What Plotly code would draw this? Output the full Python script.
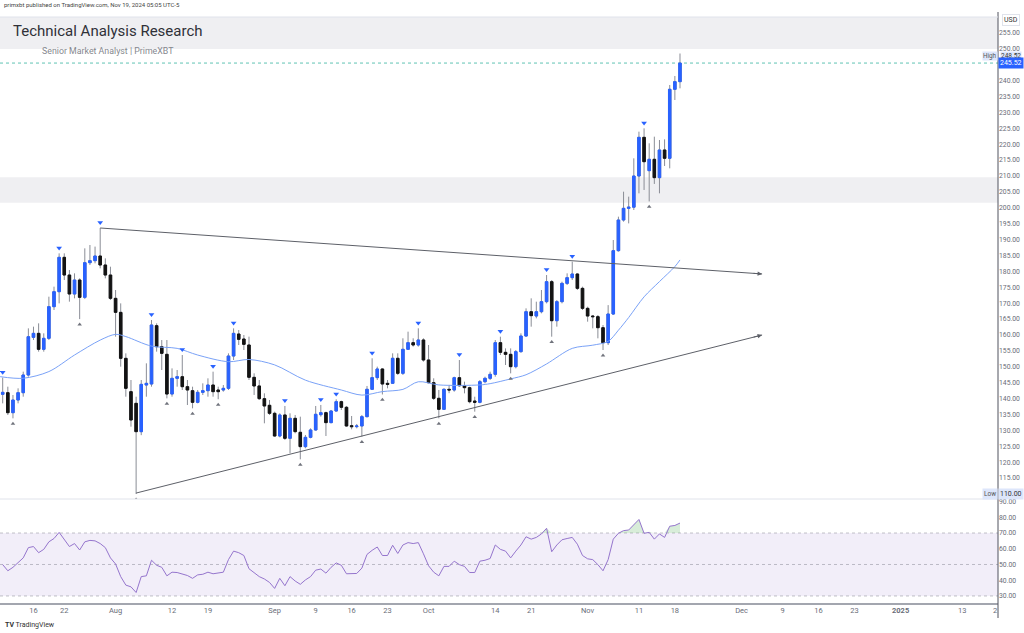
import plotly.graph_objects as go
import pandas as pd

# ---------------- data ----------------
dates = pd.date_range("2024-07-10", "2024-11-19", freq="D")

open_ = [141.34, 141.86, 135.57, 139.56, 141.86, 147.42, 159.26, 160.52, 155.49, 158.95,
         168.91, 173.62, 184.42, 178.86, 172.89, 177.29, 171.84, 182.74, 183.37, 184.84,
         182.01, 178.86, 171.53, 167.12, 152.66, 142.18, 138.51, 129.60, 144.27, 144.59,
         162.93, 156.33, 153.92, 141.44, 146.37, 146.89, 143.75, 142.49, 138.82, 141.97,
         142.49, 144.27, 142.70, 142.70, 143.23, 153.39, 160.31, 158.74, 156.86, 146.69,
         143.97, 139.98, 137.89, 135.37, 128.24, 134.85, 127.51, 133.80, 129.40, 124.89,
         127.82, 130.13, 134.95, 135.58, 132.44, 136.10, 139.04, 137.26, 131.49, 131.18,
         131.39, 134.32, 142.92, 146.59, 149.31, 144.80, 144.80, 152.67, 147.95, 155.50,
         157.59, 156.86, 158.43, 152.14, 145.01, 140.09, 136.63, 142.92, 142.70, 146.58,
         144.06, 143.44, 139.24, 138.82, 145.32, 146.37, 147.63, 157.59, 154.55, 153.92,
         150.04, 154.76, 159.68, 167.33, 165.97, 167.33, 170.48, 176.77, 164.50, 170.48,
         176.24, 178.03, 179.18, 174.67, 168.38, 165.97, 165.76, 162.30, 157.59, 166.60,
         186.52, 196.16, 199.83, 200.20, 210.00, 222.16, 211.68, 215.25, 209.48, 218.18,
         215.56, 237.26, 239.67]
high_ = [146.60, 143.75, 141.13, 143.23, 148.47, 162.09, 162.62, 163.67, 160.52, 172.05,
         175.20, 185.68, 185.68, 180.44, 179.39, 177.82, 187.25, 188.30, 187.80, 193.65,
         184.10, 181.48, 174.15, 169.95, 154.23, 145.85, 140.60, 145.85, 151.09, 164.71,
         163.67, 158.42, 158.42, 149.51, 148.99, 153.71, 145.85, 143.75, 142.70, 144.80,
         146.37, 148.47, 143.75, 144.27, 154.23, 162.09, 161.57, 160.00, 159.48, 147.95,
         145.85, 141.66, 139.56, 135.90, 135.37, 137.68, 135.37, 134.85, 134.32, 128.56,
         130.65, 137.68, 138.00, 135.90, 136.42, 139.77, 139.35, 137.68, 134.53, 132.02,
         134.85, 143.97, 152.67, 150.05, 149.52, 145.85, 154.24, 154.24, 158.96, 161.05,
         158.96, 162.10, 158.96, 156.86, 146.38, 142.71, 143.23, 144.30, 146.89, 152.13,
         145.32, 143.75, 140.60, 145.85, 146.89, 148.47, 158.42, 159.47, 155.80, 155.80,
         155.28, 160.52, 168.38, 171.53, 170.48, 174.15, 178.86, 177.29, 171.00, 176.77,
         179.39, 183.06, 179.39, 175.20, 168.91, 166.29, 166.29, 163.14, 169.40, 189.87,
         197.21, 205.07, 203.50, 215.56, 223.94, 224.99, 220.28, 222.37, 221.32, 221.53,
         238.62, 241.45, 248.52]
low_ = [138.50, 134.84, 133.79, 138.51, 140.60, 146.90, 158.42, 154.76, 154.76, 158.42,
        167.86, 169.95, 177.29, 170.48, 171.53, 165.00, 171.30, 182.00, 182.53, 180.96,
        177.82, 171.00, 159.47, 150.04, 140.60, 131.17, 110.00, 128.50, 140.60, 143.75,
        154.76, 148.99, 140.08, 140.60, 143.75, 142.70, 137.98, 136.94, 138.51, 141.13,
        140.60, 140.60, 139.80, 142.18, 142.70, 152.13, 156.85, 155.28, 145.85, 141.14,
        139.56, 132.23, 134.85, 128.03, 127.82, 126.99, 122.79, 129.08, 120.90, 124.37,
        127.51, 129.92, 134.32, 128.24, 132.23, 135.90, 136.42, 131.18, 130.34, 130.65,
        128.03, 134.11, 142.71, 145.85, 141.30, 143.23, 144.59, 147.43, 147.43, 155.29,
        156.34, 156.34, 151.62, 144.80, 139.56, 133.80, 136.42, 141.70, 142.18, 143.75,
        141.65, 138.51, 135.89, 138.51, 144.80, 145.85, 146.89, 153.71, 150.56, 147.94,
        149.51, 154.44, 159.47, 162.62, 165.24, 166.81, 169.95, 159.47, 162.62, 169.95,
        175.72, 177.29, 174.15, 167.86, 164.19, 162.09, 158.95, 155.28, 156.85, 166.30,
        186.20, 195.64, 195.10, 199.31, 204.55, 205.60, 202.00, 207.50, 204.55, 213.15,
        212.41, 233.90, 237.57]
close_ = [141.97, 135.57, 139.56, 141.86, 147.42, 159.47, 160.52, 155.49, 158.95, 168.91,
          173.62, 184.42, 178.86, 172.89, 177.29, 171.84, 182.74, 183.37, 184.84, 182.01,
          178.86, 171.53, 167.12, 152.66, 143.23, 133.27, 129.60, 144.48, 144.80, 163.14,
          156.33, 154.23, 141.44, 146.37, 146.89, 143.75, 142.70, 138.82, 141.97, 142.49,
          144.27, 142.18, 142.18, 143.23, 153.39, 160.52, 158.63, 157.06, 146.70, 143.97,
          139.98, 137.68, 135.37, 128.24, 134.85, 127.51, 133.80, 129.61, 124.89, 127.82,
          130.13, 135.06, 135.58, 132.44, 136.10, 139.04, 137.26, 131.39, 131.18, 131.39,
          134.32, 142.92, 146.59, 149.31, 144.59, 144.49, 152.67, 147.95, 155.50, 157.59,
          156.86, 158.43, 152.14, 145.01, 140.09, 136.63, 142.92, 142.71, 146.58, 144.06,
          143.44, 139.03, 138.82, 145.32, 146.37, 147.63, 157.59, 154.55, 153.92, 150.04,
          154.76, 159.68, 167.33, 166.08, 167.33, 170.48, 176.77, 164.50, 170.48, 176.24,
          178.03, 179.18, 174.67, 168.38, 165.97, 165.76, 162.30, 157.59, 166.60, 186.52,
          196.16, 199.83, 200.20, 210.00, 222.16, 214.50, 215.25, 209.48, 218.18, 215.56,
          237.26, 239.67, 245.52]

rsi = [49.9, 46.0, 48.2, 51.0, 54.2, 60.7, 61.4, 57.5, 59.6, 64.4,
       66.5, 70.4, 66.1, 61.4, 63.3, 59.2, 64.4, 65.3, 65.0, 63.3,
       60.7, 54.2, 50.3, 42.3, 36.9, 35.8, 32.2, 42.3, 42.8, 52.7,
       49.5, 48.2, 42.8, 45.1, 44.9, 43.8, 43.0, 41.2, 43.4, 43.8,
       45.1, 44.1, 44.5, 45.1, 53.1, 58.5, 57.5, 55.7, 47.3, 44.9,
       42.3, 40.8, 38.6, 34.8, 41.2, 36.5, 42.3, 39.5, 37.4, 40.2,
       42.3, 46.4, 47.1, 44.5, 48.2, 51.0, 49.5, 44.1, 44.1, 44.3,
       47.7, 56.4, 59.0, 61.1, 55.7, 55.7, 62.2, 57.0, 62.4, 63.9,
       63.3, 63.9, 56.8, 49.2, 45.1, 42.8, 48.8, 48.8, 52.1, 49.9,
       48.8, 44.9, 44.9, 52.1, 52.7, 53.8, 62.4, 59.6, 58.5, 54.2,
       58.5, 62.4, 67.6, 66.1, 67.2, 69.4, 73.0, 58.1, 62.4, 65.7,
       66.5, 67.2, 62.9, 55.7, 53.6, 53.1, 49.9, 46.0, 53.1, 66.1,
       69.8, 71.5, 71.9, 75.4, 78.6, 69.8, 70.4, 66.1, 69.4, 67.2,
       74.3, 74.8, 76.3]

ma_dates = ["2024-07-09 12:00", "2024-07-14", "2024-07-19", "2024-07-24", "2024-07-29",
            "2024-08-01", "2024-08-03", "2024-08-08", "2024-08-13", "2024-08-17",
            "2024-08-23", "2024-08-27", "2024-09-01", "2024-09-07", "2024-09-14",
            "2024-09-18", "2024-09-22", "2024-09-26", "2024-09-29", "2024-10-03",
            "2024-10-11", "2024-10-13", "2024-10-17", "2024-10-20", "2024-10-24",
            "2024-10-29", "2024-11-02", "2024-11-05", "2024-11-07", "2024-11-09",
            "2024-11-12", "2024-11-15", "2024-11-18", "2024-11-19"]
ma_values = [146.9, 146.4, 148.5, 153.7, 158.4, 160.2, 159.5, 156.5, 155.8, 153.7,
             151.6, 152.3, 150.6, 145.8, 142.7, 141.1, 142.2, 142.9, 145.3, 144.3,
             144.3, 144.7, 146.2, 147.5, 150.9, 155.8, 156.8, 158.0, 161.5, 165.5,
             172.0, 176.8, 181.5, 183.6]

swing_high_dates = ["2024-07-10", "2024-07-21", "2024-07-29", "2024-08-08", "2024-08-14",
                    "2024-08-20", "2024-08-24", "2024-09-03", "2024-09-10", "2024-09-13",
                    "2024-09-20", "2024-09-29", "2024-10-07", "2024-10-15", "2024-10-24",
                    "2024-10-29", "2024-11-12"]
swing_low_dates = ["2024-07-12", "2024-07-25", "2024-08-05", "2024-08-11", "2024-08-16",
                   "2024-08-21", "2024-09-06", "2024-09-18", "2024-09-22", "2024-10-03",
                   "2024-10-10", "2024-10-17", "2024-10-25", "2024-11-04", "2024-11-13"]

upper_trend_dates = ["2024-07-29", "2024-12-05"]
upper_trend_prices = [193.65, 179.2]
lower_trend_dates = ["2024-08-05", "2024-12-05"]
lower_trend_prices = [110.3, 160.0]

zone_top = (249.9, 260.0)
zone_mid = (201.6, 209.6)
last_price = 245.52
high_price = 248.52
low_price = 110.00

# 245.00 is hidden behind the last-price label in the reference
price_ticks = [v for v in range(115, 256, 5) if v != 245]
rsi_ticks = [30, 40, 50, 60, 70, 80, 90]
xtick_dates = ["2024-07-16", "2024-07-22", "2024-08-01", "2024-08-12", "2024-08-19",
               "2024-09-01", "2024-09-09", "2024-09-16", "2024-09-23", "2024-10-01",
               "2024-10-14", "2024-10-21", "2024-11-01", "2024-11-11", "2024-11-18",
               "2024-12-01", "2024-12-09", "2024-12-16", "2024-12-23", "2025-01-01",
               "2025-01-13"]
xtick_text = ["16", "22", "Aug", "12", "19", "Sep", "9", "16", "23", "Oct", "14", "21",
              "Nov", "11", "18", "Dec", "9", "16", "23", "<b>2025</b>", "13"]

# ---------------- styling ----------------
BLUE = "#2962FF"
BLACK = "#131313"
WICK = "#8a8d96"
TXT = "#6a6d78"
FONT = "Roboto"

W, H = 1024, 633
L, R, T, B = 0, 26, 17, 29
PH = H - T - B
PW = W - L - R
SPLIT = 499


def py(pix):
    return (H - B - pix) / PH


def px(pix):
    return (pix - L) / PW


date_str = list(dates.strftime("%Y-%m-%d"))
pos = {d: i for i, d in enumerate(date_str)}
body_hi = [max(o, c) for o, c in zip(open_, close_)]
body_lo = [min(o, c) for o, c in zip(open_, close_)]

fig = go.Figure()

fig.add_trace(go.Candlestick(
    x=dates, open=open_, high=high_, low=low_, close=close_,
    increasing=dict(line=dict(color=WICK, width=1), fillcolor=WICK),
    decreasing=dict(line=dict(color=WICK, width=1), fillcolor=WICK),
    whiskerwidth=0, hoverinfo="skip", xaxis="x", yaxis="y"))
fig.add_trace(go.Candlestick(
    x=dates, open=open_, high=body_hi, low=body_lo, close=close_,
    increasing=dict(line=dict(color=BLUE, width=1), fillcolor=BLUE),
    decreasing=dict(line=dict(color=BLACK, width=1), fillcolor=BLACK),
    whiskerwidth=0, xaxis="x", yaxis="y"))

fig.add_trace(go.Scatter(x=ma_dates, y=ma_values, mode="lines",
                         line=dict(color="#7aa2f7", width=1, shape="spline", smoothing=0.9),
                         xaxis="x", yaxis="y", hoverinfo="skip"))

for dx, dy in ((upper_trend_dates, upper_trend_prices), (lower_trend_dates, lower_trend_prices)):
    fig.add_trace(go.Scatter(x=dx, y=dy, mode="lines", line=dict(color="#5d6068", width=1),
                             xaxis="x", yaxis="y", hoverinfo="skip"))

fig.add_trace(go.Scatter(
    x=swing_high_dates, y=[high_[pos[d]] + 1.7 for d in swing_high_dates], mode="markers",
    marker=dict(symbol="triangle-down", size=5, color=BLUE), xaxis="x", yaxis="y"))
fig.add_trace(go.Scatter(
    x=swing_low_dates, y=[low_[pos[d]] - 1.7 for d in swing_low_dates], mode="markers",
    marker=dict(symbol="triangle-up", size=4, color="#70737c"), xaxis="x", yaxis="y"))

fig.add_trace(go.Scatter(x=dates, y=[70] * len(dates), mode="lines", line=dict(width=0),
                         xaxis="x", yaxis="y2", hoverinfo="skip"))
fig.add_trace(go.Scatter(x=dates, y=[max(v, 70) for v in rsi], mode="lines",
                         line=dict(width=0), fill="tonexty",
                         fillcolor="rgba(76,175,80,0.22)", xaxis="x", yaxis="y2",
                         hoverinfo="skip"))
fig.add_trace(go.Scatter(x=dates, y=rsi, mode="lines",
                         line=dict(color="#9575cd", width=1), xaxis="x", yaxis="y2"))

shapes = [
    dict(type="rect", xref="paper", yref="y", x0=0, x1=1, y0=zone_top[0], y1=zone_top[1],
         fillcolor="#efeff2", line=dict(width=0), layer="below"),
    dict(type="rect", xref="paper", yref="y", x0=0, x1=1, y0=zone_mid[0], y1=zone_mid[1],
         fillcolor="#efeff2", line=dict(width=0), layer="below"),
    dict(type="line", xref="paper", yref="y", x0=0, x1=1, y0=last_price, y1=last_price,
         line=dict(color="#5fc3b3", width=1, dash="dot"), layer="below"),
    dict(type="rect", xref="paper", yref="y2", x0=0, x1=1, y0=30, y1=70,
         fillcolor="rgba(126,87,194,0.10)", line=dict(width=0), layer="below"),
    dict(type="line", xref="paper", yref="paper", x0=0, x1=1, y0=py(SPLIT), y1=py(SPLIT),
         line=dict(color="#e0e3eb", width=1)),
    dict(type="line", xref="paper", yref="paper", x0=0, x1=1, y0=0, y1=0,
         line=dict(color="#a3a6af", width=2)),
    dict(type="line", xref="paper", yref="paper", x0=1, x1=1, y0=py(618), y1=py(12),
         line=dict(color="#50535e", width=1)),
    dict(type="line", xref="paper", yref="paper", x0=0, x1=1, y0=1, y1=1,
         line=dict(color="#e0e3eb", width=1)),
]
for lv in (70, 50, 30):
    shapes.append(dict(type="line", xref="paper", yref="y2", x0=0, x1=1, y0=lv, y1=lv,
                       line=dict(color="rgba(120,123,134,0.45)", width=1, dash="dot"),
                       layer="below"))

HIGH_ROW = 55.5  # pixel row of the "High" label pair (just under the 250.00 tick)

annotations = [
    dict(text="Technical Analysis Research", xref="paper", yref="paper", x=px(11), y=py(31),
         xanchor="left", yanchor="middle", showarrow=False,
         font=dict(family=FONT, size=15, color="#2f3138")),
    dict(text="Senior Market Analyst | PrimeXBT", xref="paper", yref="paper", x=px(40),
         y=py(51), xanchor="left", yanchor="middle", showarrow=False,
         font=dict(family=FONT, size=8.8, color="#85878e")),
    dict(text="primxbt published on TradingView.com, Nov 19, 2024 05:05 UTC-5", xref="paper",
         yref="paper", x=px(2), y=py(5), xanchor="left", yanchor="middle", showarrow=False,
         font=dict(family=FONT, size=6, color="#444")),
    dict(text="<b>TV</b> TradingView", xref="paper", yref="paper", x=px(3), y=py(625),
         xanchor="left", yanchor="middle", showarrow=False,
         font=dict(family=FONT, size=7, color="#333")),
    dict(text="USD", xref="paper", yref="paper", x=px(1011), y=py(20), xanchor="center",
         yanchor="middle", showarrow=False, bgcolor="white", bordercolor="#e0e3eb",
         borderwidth=1, borderpad=1, font=dict(family=FONT, size=7, color="#333")),
    dict(text="High", xref="paper", yref="paper", x=px(990), y=py(HIGH_ROW),
         xanchor="center", yanchor="middle", showarrow=False, bgcolor="#dde6fb",
         borderpad=0, font=dict(family=FONT, size=6.3, color="#555")),
    dict(text="%.2f" % high_price, xref="paper", yref="paper", x=px(1011), y=py(HIGH_ROW),
         xanchor="center", yanchor="middle", showarrow=False, bgcolor="#dde6fb",
         borderpad=0, font=dict(family=FONT, size=6.5, color="#333")),
    dict(text="%.2f" % last_price, xref="paper", yref="y", x=px(1011), y=last_price,
         xanchor="center", yanchor="middle", showarrow=False, bgcolor=BLUE, borderpad=1,
         font=dict(family=FONT, size=7, color="white")),
    dict(text="Low", xref="paper", yref="y", x=px(990), y=low_price, xanchor="center",
         yanchor="middle", showarrow=False, bgcolor="#dde6fb", borderpad=1,
         font=dict(family=FONT, size=6.5, color="#555")),
    dict(text="%.2f" % low_price, xref="paper", yref="y", x=px(1011), y=low_price,
         xanchor="center", yanchor="middle", showarrow=False, bgcolor="#dde6fb",
         borderpad=1, font=dict(family=FONT, size=7, color="#333")),
    dict(text="2", xref="paper", yref="paper", x=px(995), y=py(611), xanchor="center",
         yanchor="middle", showarrow=False, font=dict(family=FONT, size=7.5, color=TXT)),
    dict(x=upper_trend_dates[1], y=upper_trend_prices[1], xref="x", yref="y", text="",
         showarrow=True, ax=-10, ay=-0.7, arrowhead=2, arrowsize=0.9, arrowwidth=1,
         arrowcolor="#5d6068"),
    dict(x=lower_trend_dates[1], y=lower_trend_prices[1], xref="x", yref="y", text="",
         showarrow=True, ax=-10, ay=2.5, arrowhead=2, arrowsize=0.9, arrowwidth=1,
         arrowcolor="#5d6068"),
]

y_top = 110 + (494 - T) / 3.18
y_bot = 110 - (SPLIT - 494) / 3.18

fig.update_layout(
    width=W, height=H, autosize=False,
    margin=dict(l=L, r=R, t=T, b=B, pad=0),
    paper_bgcolor="white", plot_bgcolor="white",
    showlegend=False, hovermode=False,
    font=dict(family=FONT, size=7, color=TXT),
    shapes=shapes, annotations=annotations,
    xaxis=dict(type="date", domain=[0, 1], anchor="y2",
               range=["2024-07-09 11:22", "2025-01-19 23:30"],
               tickvals=xtick_dates, ticktext=xtick_text, ticks="", showgrid=False,
               zeroline=False, showline=False, rangeslider=dict(visible=False),
               tickfont=dict(family=FONT, size=7.5, color=TXT)),
    yaxis=dict(domain=[py(SPLIT), 1], range=[y_bot, y_top], side="right", anchor="x",
               tickvals=price_ticks, ticktext=["%.2f" % v for v in price_ticks],
               ticks="", showgrid=False, zeroline=False, showline=False,
               tickfont=dict(family=FONT, size=6.8, color=TXT)),
    yaxis2=dict(domain=[0, py(SPLIT)], range=[24.9, 91.6], side="right", anchor="x",
                tickvals=rsi_ticks, ticktext=["%.2f" % v for v in rsi_ticks],
                ticks="", showgrid=False, zeroline=False, showline=False,
                tickfont=dict(family=FONT, size=6.8, color=TXT)),
)

fig.write_html("out.html")
